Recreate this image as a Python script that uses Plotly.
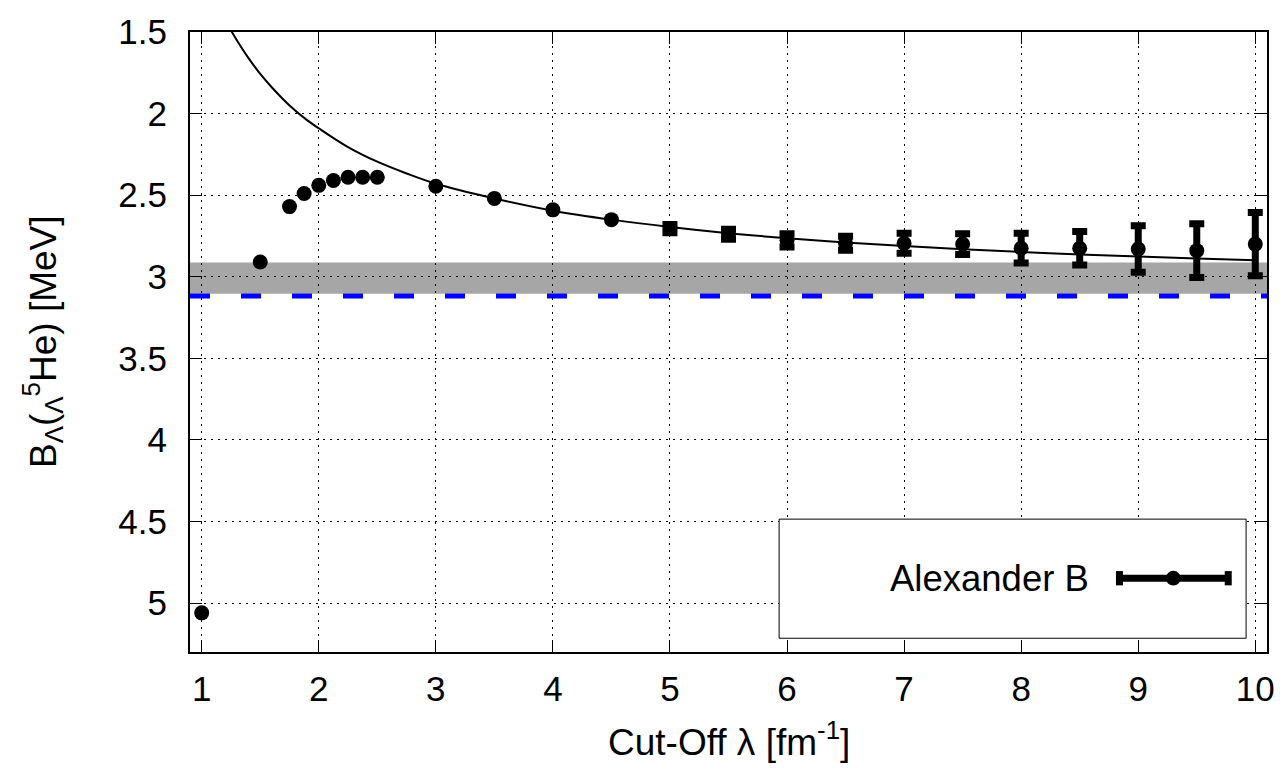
import plotly.graph_objects as go

# ---- data ----
# points without visible error bars
x_plain = [1, 1.5, 1.75, 1.875, 2, 2.125, 2.25, 2.375, 2.5, 3, 3.5, 4, 4.5]
y_plain = [5.06, 2.91, 2.57, 2.49, 2.44, 2.41, 2.39, 2.39, 2.39, 2.445, 2.52, 2.59, 2.65]

# points with error bars
x_err = [5, 5.5, 6, 6.5, 7, 7.5, 8, 8.5, 9, 9.5, 10]
y_err = [2.705, 2.74, 2.777, 2.795, 2.795, 2.80, 2.825, 2.825, 2.83, 2.84, 2.80]
e_err = [0.025, 0.031, 0.04, 0.043, 0.061, 0.064, 0.091, 0.103, 0.143, 0.164, 0.194]

# fitted curve
curve_x = [1.25, 1.3, 1.4, 1.5, 1.6, 1.75, 1.9, 2.0, 2.25, 2.5, 2.75, 3.0, 3.5, 4.0,
           4.5, 5.0, 5.5, 6.0, 6.5, 7.0, 7.5, 8.0, 8.5, 9.0, 9.5, 10.0]
curve_y = [1.49, 1.55, 1.66, 1.757, 1.84, 1.95, 2.04, 2.09, 2.205, 2.295, 2.367, 2.43, 2.52, 2.595,
           2.65, 2.695, 2.733, 2.764, 2.79, 2.812, 2.831, 2.848, 2.863, 2.876, 2.888, 2.899]

# experimental band and reference line
band_low = 2.912
band_high = 3.105
ref_value = 3.118

x_ticks = [1, 2, 3, 4, 5, 6, 7, 8, 9, 10]
y_ticks = [1.5, 2, 2.5, 3, 3.5, 4, 4.5, 5]
y_ticklabels = ["1.5", "2", "2.5", "3", "3.5", "4", "4.5", "5"]

legend_label = "Alexander B"

FONT = "Liberation Sans, Arial, sans-serif"

fig = go.Figure()

fig.add_trace(go.Scatter(x=curve_x, y=curve_y, mode="lines",
                         line=dict(color="black", width=2, shape="spline"),
                         showlegend=False, hoverinfo="skip"))

fig.add_trace(go.Scatter(x=x_plain, y=y_plain, mode="markers",
                         marker=dict(color="black", size=15, symbol="circle"),
                         showlegend=False))

fig.add_trace(go.Scatter(x=x_err, y=y_err, mode="markers",
                         marker=dict(color="black", size=15, symbol="circle"),
                         error_y=dict(type="data", array=e_err, visible=True,
                                      color="black", thickness=7, width=7.5),
                         showlegend=False))

# band and dashed blue line
fig.add_shape(type="rect", xref="paper", x0=0, x1=1, yref="y", y0=band_low, y1=band_high,
              fillcolor="#a6a6a6", line=dict(width=0), layer="between")
fig.add_shape(type="line", xref="paper", x0=0, x1=1, yref="y", y0=ref_value, y1=ref_value,
              line=dict(color="#0000ff", width=5, dash="20px,31px"), layer="between")

# hand-drawn legend box
fig.add_shape(type="rect", xref="paper", yref="paper", x0=0.547, x1=0.9806, y0=0.0222, y1=0.2143,
              fillcolor="white", line=dict(color="black", width=1), layer="above")
ly = 0.119
fig.add_shape(type="line", xref="paper", yref="paper", x0=0.863, x1=0.964, y0=ly, y1=ly,
              line=dict(color="black", width=7), layer="above")
for xc in (0.863, 0.964):
    fig.add_shape(type="line", xref="paper", yref="paper", x0=xc, x1=xc,
                  y0=ly - 0.0115, y1=ly + 0.0115, line=dict(color="black", width=7), layer="above")
fig.add_shape(type="circle", xref="paper", yref="paper", x0=0.913 - 0.0069, x1=0.913 + 0.0069,
              y0=ly - 0.0119, y1=ly + 0.0119, fillcolor="black", line=dict(width=0), layer="above")
fig.add_annotation(xref="paper", yref="paper", x=0.8324, xshift=5, y=ly, xanchor="right",
                   yanchor="middle", text=legend_label, showarrow=False,
                   font=dict(family=FONT, size=36.5, color="black"))

# axis titles
fig.add_annotation(xref="paper", yref="paper", x=0.5, y=0, yshift=-87, xanchor="center",
                   yanchor="middle", showarrow=False,
                   text="Cut-Off λ [fm<sup>-1</sup>]",
                   font=dict(family=FONT, size=37, color="black"))
fig.add_annotation(xref="paper", yref="paper", x=0, y=0.5, xshift=-148, xanchor="center",
                   yanchor="middle", showarrow=False, textangle=-90,
                   text="B<sub>Λ</sub>(<sub>Λ</sub><sup>5</sup>He) [MeV]",
                   font=dict(family=FONT, size=37, color="black"))

axis_common = dict(showline=True, linecolor="black", linewidth=2, mirror="ticks",
                   ticks="inside", ticklen=12, tickwidth=1, tickcolor="black",
                   showgrid=True, gridcolor="black", gridwidth=1, griddash="2px,5px",
                   zeroline=False, tickfont=dict(family=FONT, size=35, color="black"))

fig.update_xaxes(range=[0.9, 10.1], tickvals=x_ticks, ticklabelstandoff=5, **axis_common)
fig.update_yaxes(range=[5.3, 1.5], tickvals=y_ticks, ticktext=y_ticklabels,
                 ticklabelstandoff=14, **axis_common)

fig.update_layout(width=1287, height=769, margin=dict(l=190, r=17, t=22, b=117),
                  plot_bgcolor="white", paper_bgcolor="white", showlegend=False,
                  font=dict(family=FONT, color="black"))

fig.write_html("out.html")
